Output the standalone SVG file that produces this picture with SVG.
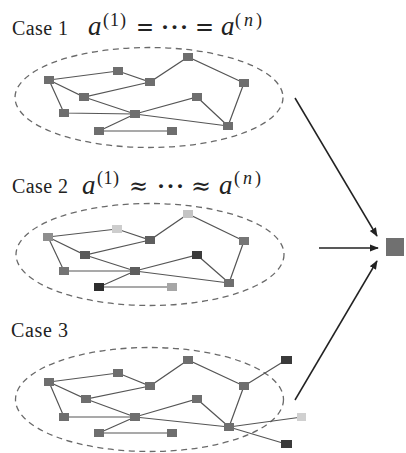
<svg xmlns="http://www.w3.org/2000/svg" width="406" height="453" viewBox="0 0 406 453">
<defs>
<style>
.bg{fill:#ffffff}
.lbl{font-family:"Liberation Serif","Times New Roman",serif;font-size:20px;fill:#222}
.mi{font-family:"Liberation Serif","Times New Roman",serif;font-style:italic;font-size:27px;fill:#222}
.sup{font-family:"Liberation Serif","Times New Roman",serif;font-size:18px;fill:#222}
.op{font-family:"DejaVu Serif","Liberation Serif",serif;font-size:24px;fill:#222}
.dots{font-family:"Liberation Serif","Times New Roman",serif;font-size:24px;font-weight:bold;letter-spacing:1.5px;fill:#222}
.ell{fill:none;stroke:#6a6a6a;stroke-width:1.3;stroke-dasharray:6 4.5}
.e{stroke:#555;stroke-width:1.2;fill:none}
.n{fill:#6e6e6e}
.arr{stroke:#222;stroke-width:1.5;fill:none;marker-end:url(#ah)}
</style>
<marker id="ah" viewBox="0 0 10 10" refX="9" refY="5" markerWidth="6" markerHeight="6" orient="auto" markerUnits="strokeWidth">
<path d="M0,1 L10,5 L0,9 z" fill="#222"/>
</marker>
</defs>
<rect class="bg" x="0" y="0" width="406" height="453"/>

<!-- labels -->
<g id="labels">
<text class="lbl" x="12" y="35" textLength="56">Case 1</text>
<text class="mi" x="88" y="35">a</text>
<text class="sup" x="103" y="26" textLength="23">(1)</text>
<text class="op" x="136" y="35" textLength="18" lengthAdjust="spacingAndGlyphs">=</text>
<text class="dots" x="161" y="35">···</text>
<text class="op" x="195" y="35" textLength="19" lengthAdjust="spacingAndGlyphs">=</text>
<text class="mi" x="221" y="35">a</text>
<text class="sup" x="235" y="26" textLength="27">(<tspan font-style="italic">n</tspan>)</text>

<text class="lbl" x="12" y="193" textLength="56">Case 2</text>
<text class="mi" x="82" y="194">a</text>
<text class="sup" x="97" y="184" textLength="22">(1)</text>
<text class="op" x="129" y="194" textLength="19" lengthAdjust="spacingAndGlyphs">≈</text>
<text class="dots" x="157" y="194">···</text>
<text class="op" x="191" y="194" textLength="20" lengthAdjust="spacingAndGlyphs">≈</text>
<text class="mi" x="219" y="194">a</text>
<text class="sup" x="234" y="184" textLength="27">(<tspan font-style="italic">n</tspan>)</text>

<text class="lbl" x="11" y="337" textLength="57">Case 3</text>
</g>

<!-- ellipses -->
<g id="groups">
<ellipse class="ell" cx="149" cy="97.5" rx="134" ry="50"/>
<ellipse class="ell" cx="150" cy="254.5" rx="134" ry="51"/>
<ellipse class="ell" cx="149.5" cy="399.5" rx="134" ry="52"/>
</g>

<!-- connectors -->
<g id="connectors">
<path class="e" d="M49,80 L118,71 L150,82 L188,57 L244,83 L228,126 M49,80 L84,97 L150,82 M84,97 L135,114 M49,80 L64,113 L135,114 L197,97 L228,126 M135,114 L228,126 M135,114 L99,131 L172,131"/>
<path class="e" d="M48,237 L117,229 L150,240 L188,214 L244,241 L229,283 M48,237 L85,255 L150,240 M85,255 L135,271 M48,237 L64,271 L135,271 L197,255 L229,283 M135,271 L229,283 M135,271 L99,287 L172,287"/>
<path class="e" d="M49,382 L118,373 L150,386 L188,360 L244,386 L229,427 M49,382 L86,399 L150,386 M86,399 L135,417 M49,382 L64,417 L135,417 L197,399 L229,427 M135,417 L229,427 M135,417 L99,433 L172,433 M244,386 L286,360 M229,427 L302,417 M229,427 L286,444"/>
<line class="arr" x1="295" y1="98" x2="377" y2="236"/>
<line class="arr" x1="319" y1="248" x2="378" y2="248"/>
<line class="arr" x1="295" y1="400" x2="377" y2="261"/>
</g>

<!-- case 1 nodes -->
<g id="c1-a"><rect class="n" x="44" y="76" width="10" height="8"/></g>
<g id="c1-b"><rect class="n" x="113" y="67" width="10" height="8"/></g>
<g id="c1-c"><rect class="n" x="145" y="78" width="10" height="8"/></g>
<g id="c1-d"><rect class="n" x="183" y="53" width="10" height="8"/></g>
<g id="c1-e"><rect class="n" x="239" y="79" width="10" height="8"/></g>
<g id="c1-f"><rect class="n" x="79" y="93" width="10" height="8"/></g>
<g id="c1-g"><rect class="n" x="192" y="93" width="10" height="8"/></g>
<g id="c1-h"><rect class="n" x="59" y="109" width="10" height="8"/></g>
<g id="c1-i"><rect class="n" x="130" y="110" width="10" height="8"/></g>
<g id="c1-j"><rect class="n" x="223" y="122" width="10" height="8"/></g>
<g id="c1-k"><rect class="n" x="94" y="127" width="10" height="8"/></g>
<g id="c1-l"><rect class="n" x="167" y="127" width="10" height="8"/></g>

<!-- case 2 nodes -->
<g id="c2-a"><rect class="n" x="43" y="233" width="10" height="8" style="fill:#8e8e8e"/></g>
<g id="c2-b"><rect class="n" x="112" y="225" width="10" height="8" style="fill:#cdcdcd"/></g>
<g id="c2-c"><rect class="n" x="145" y="236" width="10" height="8" style="fill:#5e5e5e"/></g>
<g id="c2-d"><rect class="n" x="183" y="210" width="10" height="8" style="fill:#c4c4c4"/></g>
<g id="c2-e"><rect class="n" x="239" y="237" width="10" height="8" style="fill:#767676"/></g>
<g id="c2-f"><rect class="n" x="80" y="251" width="10" height="8" style="fill:#5a5a5a"/></g>
<g id="c2-g"><rect class="n" x="192" y="251" width="10" height="8" style="fill:#3c3c3c"/></g>
<g id="c2-h"><rect class="n" x="59" y="267" width="10" height="8" style="fill:#747474"/></g>
<g id="c2-i"><rect class="n" x="130" y="267" width="10" height="8" style="fill:#5e5e5e"/></g>
<g id="c2-j"><rect class="n" x="224" y="279" width="10" height="8" style="fill:#6e6e6e"/></g>
<g id="c2-k"><rect class="n" x="94" y="283" width="10" height="8" style="fill:#2e2e2e"/></g>
<g id="c2-l"><rect class="n" x="167" y="283" width="10" height="8" style="fill:#a6a6a6"/></g>

<!-- case 3 nodes -->
<g id="c3-a"><rect class="n" x="44" y="378" width="10" height="8"/></g>
<g id="c3-b"><rect class="n" x="113" y="369" width="10" height="8"/></g>
<g id="c3-c"><rect class="n" x="145" y="382" width="10" height="8"/></g>
<g id="c3-d"><rect class="n" x="183" y="356" width="10" height="8"/></g>
<g id="c3-e"><rect class="n" x="239" y="382" width="10" height="8"/></g>
<g id="c3-f"><rect class="n" x="81" y="395" width="10" height="8"/></g>
<g id="c3-g"><rect class="n" x="192" y="395" width="10" height="8"/></g>
<g id="c3-h"><rect class="n" x="59" y="413" width="10" height="8"/></g>
<g id="c3-i"><rect class="n" x="130" y="413" width="10" height="8"/></g>
<g id="c3-j"><rect class="n" x="224" y="423" width="10" height="8"/></g>
<g id="c3-k"><rect class="n" x="94" y="429" width="10" height="8"/></g>
<g id="c3-l"><rect class="n" x="167" y="429" width="10" height="8"/></g>
<g id="c3-m"><rect class="n" x="281" y="356" width="11" height="8" style="fill:#3a3a3a"/></g>
<g id="c3-n"><rect class="n" x="297" y="413" width="9" height="8" style="fill:#d0d0d0"/></g>
<g id="c3-o"><rect class="n" x="281" y="440" width="11" height="8" style="fill:#3a3a3a"/></g>

<!-- target -->
<g id="target"><rect x="386" y="238" width="18" height="18" fill="#707070"/></g>
</svg>
